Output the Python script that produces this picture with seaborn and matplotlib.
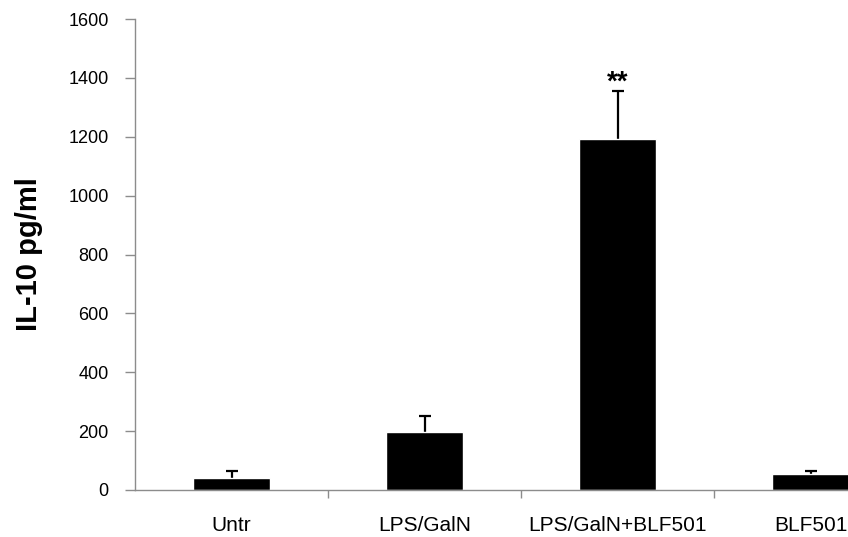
import matplotlib
matplotlib.use("Agg")
import matplotlib.pyplot as plt
import seaborn as sns
import pandas as pd

# IL-10 measurements per treatment group
groups = ["Untr", "LPS/GalN", "LPS/GalN+BLF501", "BLF501"]
il10_mean = [42, 198, 1192, 54]
il10_err = [24, 54, 162, 12]
significance = ["", "", "**", ""]

df = pd.DataFrame({"group": groups, "il10": il10_mean})

sns.set_theme(style="white")
plt.rcParams["font.family"] = ["Liberation Sans", "DejaVu Sans"]

fig = plt.figure(figsize=(8.48, 5.37), dpi=100)
# axes run past the right edge of the canvas, so the last group is cut off
ax = fig.add_axes([135 / 848, 1 - 490 / 537, 772 / 848, 471 / 537])

sns.barplot(data=df, x="group", y="il10", color="black", width=0.4,
            saturation=1, errorbar=None, ax=ax, zorder=2)

xs = [p.get_x() + p.get_width() / 2 for p in ax.patches]
hs = [p.get_height() for p in ax.patches]
# error bars sit behind the bars so only the upper half shows
ax.errorbar(xs, hs, yerr=il10_err, fmt="none", ecolor="black",
            elinewidth=1.6, capsize=4, capthick=1.6, zorder=1)

for x, h, e, s in zip(xs, hs, il10_err, significance):
    if s:
        ax.text(x, h + e + 5, s, ha="center", va="baseline", fontsize=20,
                color="black", fontweight="bold")

ax.set_xlim(-0.5, 3.5)
ax.set_ylim(0, 1600)
ax.set_yticks(range(0, 1601, 200))

# category ticks sit on the boundaries between groups
ax.set_xticks([0.5, 1.5, 2.5], minor=False)
ax.set_xticklabels([])
ax.set_xticks(range(len(groups)), minor=True)
ax.set_xticklabels(groups, minor=True)
ax.tick_params(axis="x", which="major", direction="out", length=6, width=1,
               color="#8c8c8c", bottom=True)
ax.tick_params(axis="x", which="minor", length=0, pad=19, labelsize=15,
               labelcolor="black")
ax.tick_params(axis="y", direction="out", length=7, width=1, color="#8c8c8c",
               left=True, pad=12, labelsize=13, labelcolor="black")

for side in ["top", "right"]:
    ax.spines[side].set_visible(False)
for side in ["left", "bottom"]:
    ax.spines[side].set_color("#8c8c8c")
    ax.spines[side].set_linewidth(1)

ax.set_xlabel("")
ax.set_ylabel("IL-10 pg/ml", fontsize=21, fontweight="bold", color="black",
              ha="center", va="center")
ax.yaxis.set_label_coords((28.5 - 135) / 772, 0.5)
ax.grid(False)

fig.savefig("out.png", dpi=100)
